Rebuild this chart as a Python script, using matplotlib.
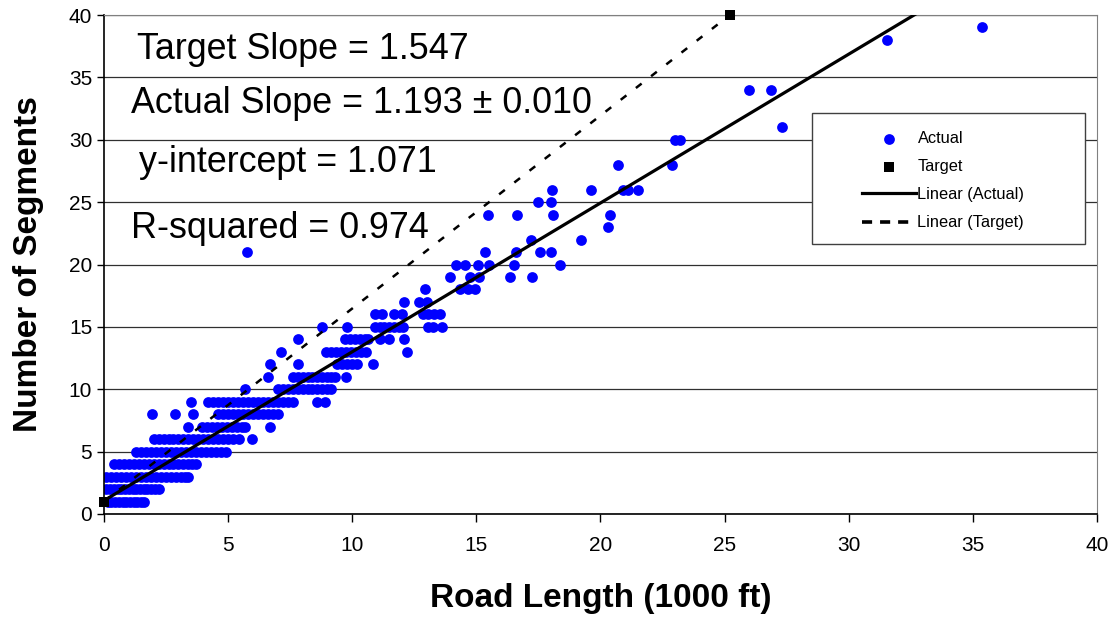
import matplotlib
matplotlib.use("Agg")
import matplotlib.pyplot as plt
from matplotlib.patches import Rectangle
import numpy as np

plt.rcParams['font.family'] = ['Liberation Sans', 'DejaVu Sans']

# number of segments on each row and the road lengths (1000 ft) read for that row
seg_counts = [1, 2, 3, 4, 5, 6, 7, 8, 9, 10, 11, 12, 13, 14, 15, 16, 17, 18, 19,
              20, 21, 22, 23, 24, 25, 26, 28, 30, 31, 34, 38, 39]
road_lengths = [
    [0.15, 0.3, 0.45, 0.6, 0.75, 0.9, 1.05, 1.2, 1.35, 1.5, 1.6],
    [0.1, 0.25, 0.4, 0.55, 0.7, 0.85, 1.0, 1.15, 1.3, 1.45, 1.6, 1.75, 1.9, 2.05, 2.2],
    [0.1, 0.3, 0.5, 0.7, 0.9, 1.1, 1.3, 1.5, 1.7, 1.9, 2.1, 2.3, 2.5, 2.7, 2.9, 3.1, 3.25, 3.4],
    [0.4, 0.6, 0.8, 1.0, 1.2, 1.4, 1.6, 1.8, 2.0, 2.2, 2.4, 2.6, 2.8, 3.0, 3.2, 3.4, 3.55, 3.7],
    [1.3, 1.5, 1.7, 1.9, 2.1, 2.3, 2.5, 2.7, 2.9, 3.1, 3.3, 3.5, 3.7, 3.9, 4.1, 4.3, 4.5, 4.7, 4.9],
    [2.0, 2.2, 2.4, 2.6, 2.8, 3.0, 3.2, 3.4, 3.6, 3.8, 4.0, 4.2, 4.4, 4.6, 4.8, 5.0, 5.2, 5.45, 5.97],
    [3.4, 3.95, 4.15, 4.35, 4.55, 4.75, 4.95, 5.15, 5.35, 5.55, 5.7, 6.7],
    [1.93, 2.86, 3.6, 4.6, 4.8, 5.0, 5.2, 5.4, 5.6, 5.8, 6.0, 6.2, 6.4, 6.6, 6.8, 7.0],
    [3.5, 4.2, 4.4, 4.6, 4.8, 5.0, 5.2, 5.4, 5.6, 5.8, 6.0, 6.2, 6.4, 6.6, 6.8, 7.0, 7.2, 7.4, 7.6, 8.6, 8.9],
    [5.7, 7.0, 7.2, 7.4, 7.6, 7.8, 8.0, 8.2, 8.4, 8.6, 8.8, 9.0, 9.15],
    [6.6, 7.6, 7.8, 8.0, 8.2, 8.4, 8.6, 8.8, 9.0, 9.15, 9.3, 9.75],
    [6.7, 7.8, 9.4, 9.6, 9.8, 10.0, 10.2, 10.85],
    [7.15, 8.95, 9.15, 9.35, 9.55, 9.75, 9.95, 10.15, 10.35, 10.55, 12.2],
    [7.8, 9.7, 9.9, 10.1, 10.3, 10.5, 10.65, 11.1, 11.5, 12.1],
    [8.8, 9.8, 10.9, 11.1, 11.3, 11.5, 11.7, 11.9, 12.05, 13.05, 13.25, 13.6],
    [10.9, 11.2, 11.7, 12.0, 12.85, 13.05, 13.3, 13.55],
    [12.1, 12.7, 13.0],
    [12.95, 14.35, 14.65, 14.95],
    [13.95, 14.75, 15.1, 16.35, 17.25],
    [14.2, 14.55, 15.05, 15.5, 16.5, 18.35],
    [5.77, 15.35, 16.6, 17.55, 18.0],
    [17.2, 19.2],
    [20.3],
    [15.45, 16.65, 18.1, 20.4],
    [17.5, 18.0],
    [18.05, 19.6, 20.9, 21.1, 21.5],
    [20.7, 22.9],
    [23.0, 23.2],
    [27.3],
    [26.0, 26.85],
    [31.55],
    [35.35],
]

target_x = [0, 25.21]
target_y = [1, 40]

target_slope = 1.547
actual_slope = 1.193
slope_err = 0.010
intercept = 1.071
r_squared = 0.974

actual_x = np.array([x for row in road_lengths for x in row])
actual_y = np.array([n for n, row in zip(seg_counts, road_lengths) for x in row])

fig = plt.figure(figsize=(11.13, 6.18), dpi=100)
ax = fig.add_axes([0.0934, 0.1683, 0.8922, 0.8074])

ax.set_xlim(0, 40)
ax.set_ylim(0, 40)
ax.set_xticks(range(0, 41, 5))
ax.set_yticks(range(0, 41, 5))
ax.yaxis.grid(True, color='#303030', linewidth=0.9)
ax.set_axisbelow(True)

ax.scatter(actual_x, actual_y, s=60, color='#0000FF', linewidths=0, zorder=2, label='Actual')
ax.scatter(target_x, target_y, s=45, marker='s', color='black', linewidths=0,
           zorder=4, clip_on=False, label='Target')

fit_x = np.array([0, actual_x.max()])
ax.plot(fit_x, intercept + actual_slope * fit_x, color='black', lw=2.3, zorder=3,
        label='Linear (Actual)')
ax.plot(target_x, target_y, color='black', lw=1.8, zorder=3,
        dashes=(2.9, 4.8), label='Linear (Target)')

for sp in ['top', 'right']:
    ax.spines[sp].set_color('#808080')
for sp in ['left', 'bottom']:
    ax.spines[sp].set_color('black')
    ax.spines[sp].set_linewidth(1.2)

ax.tick_params(axis='both', labelsize=15, direction='out', length=5, width=1)
ax.tick_params(axis='x', pad=10, length=6)
ax.set_xlabel('Road Length (1000 ft)', fontsize=24, fontweight='bold', labelpad=20)
ax.set_ylabel('Number of Segments', fontsize=24, fontweight='bold', labelpad=18)

ax.text(1.35, 37.2, f'Target Slope = {target_slope:.3f}', fontsize=25.8, va='center')
ax.text(1.08, 32.9, f'Actual Slope = {actual_slope:.3f} \u00b1 {slope_err:.3f}', fontsize=25.8, va='center')
ax.text(1.4, 28.2, f'y-intercept = {intercept:.3f}', fontsize=25.8, va='center')
ax.text(1.08, 22.9, f'R-squared = {r_squared:.3f}', fontsize=25.8, va='center')

# legend box drawn separately, it is wider than the entries
ax.add_patch(Rectangle((0.713, 0.541), 0.275, 0.263, transform=ax.transAxes,
                       facecolor='white', edgecolor='#404040', lw=1, zorder=5))
leg = ax.legend(loc='center', bbox_to_anchor=(0.845, 0.668), frameon=False,
                fontsize=11.8, handlelength=3.3, handletextpad=0.1,
                labelspacing=0.8, scatterpoints=1)
leg.set_zorder(6)
leg.get_lines()[1].set_linewidth(2.6)
leg.get_lines()[1].set_dashes((2.8, 2.2))

fig.savefig('out.png', dpi=100)
